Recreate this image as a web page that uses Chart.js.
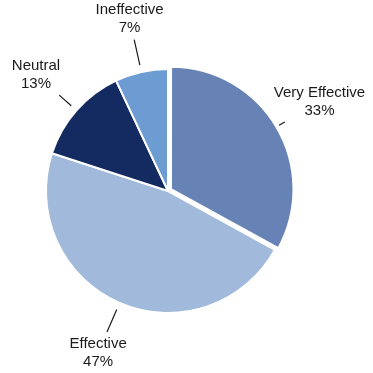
<!DOCTYPE html>
<html lang="en">

<head>
    <meta charset="UTF-8">
    <meta name="viewport" content="width=device-width, initial-scale=1.0">
    <title>Effectiveness</title>
    <script src="https://cdn.jsdelivr.net/npm/chart.js@4.4.0/dist/chart.umd.min.js"></script>
    <style>
        html, body { margin: 0; padding: 0; background: #fff; }
        #wrap { width: 373px; height: 373px; }
    </style>
</head>

<body>
    <div id="wrap"><canvas id="myChart" width="373" height="373"></canvas></div>
    <script>
        const labels = ['Very Effective', 'Effective', 'Neutral', 'Ineffective'];
        const values = [33, 47, 13, 7];
        const colors = ['#6783b6', '#a1badc', '#132b61', '#6c9cd2'];
        // chart.js draws offset/4 px, so 14 -> ~3.5px pull-out
        const offsets = [14, 0, 0, 0];

        // draws "name / pct%" outside each slice with a short radial leader line
        const outsideLabels = {
            id: 'outsideLabels',
            afterDatasetsDraw(chart) {
                const ctx = chart.ctx;
                const arcs = chart.getDatasetMeta(0).data;
                ctx.save();
                ctx.font = '15px "Liberation Sans", Arial, sans-serif';
                ctx.fillStyle = '#1a1a1a';
                ctx.strokeStyle = '#1a1a1a';
                ctx.lineWidth = 1.2;
                ctx.textAlign = 'center';
                ctx.textBaseline = 'middle';
                arcs.forEach((arc, i) => {
                    const mid = (arc.startAngle + arc.endAngle) / 2;
                    const ux = Math.cos(mid), uy = Math.sin(mid);
                    const r = arc.outerRadius;
                    const textR = r + 54;
                    const tx = arc.x + ux * textR, ty = arc.y + uy * textR;
                    const line1 = labels[i], line2 = values[i] + '%';
                    const w = Math.max(ctx.measureText(line1).width, ctx.measureText(line2).width);
                    const pad = 2.5;
                    const hw = w / 2 + pad, hh = 18 + pad;
                    const t = Math.min(Math.abs(ux) > 1e-6 ? hw / Math.abs(ux) : Infinity,
                                       Math.abs(uy) > 1e-6 ? hh / Math.abs(uy) : Infinity);
                    const r0 = r + 7, r1 = textR - t;
                    ctx.beginPath();
                    ctx.moveTo(arc.x + ux * r0, arc.y + uy * r0);
                    ctx.lineTo(arc.x + ux * r1, arc.y + uy * r1);
                    ctx.stroke();
                    ctx.fillText(line1, tx, ty - 9);
                    ctx.fillText(line2, tx, ty + 9);
                });
                ctx.restore();
            }
        };

        const ctx = document.getElementById('myChart').getContext('2d');
        const myChart = new Chart(ctx, {
            type: 'pie',
            data: {
                labels: labels,
                datasets: [{
                    data: values,
                    backgroundColor: colors,
                    borderColor: '#ffffff',
                    borderWidth: 2,
                    offset: offsets
                }]
            },
            options: {
                responsive: false,
                animation: false,
                radius: 122,
                layout: { padding: { left: 20, right: 57, top: 20, bottom: 11 } },
                plugins: {
                    legend: { display: false },
                    tooltip: { enabled: false }
                }
            },
            plugins: [outsideLabels]
        });
    </script>

</body>

</html>
